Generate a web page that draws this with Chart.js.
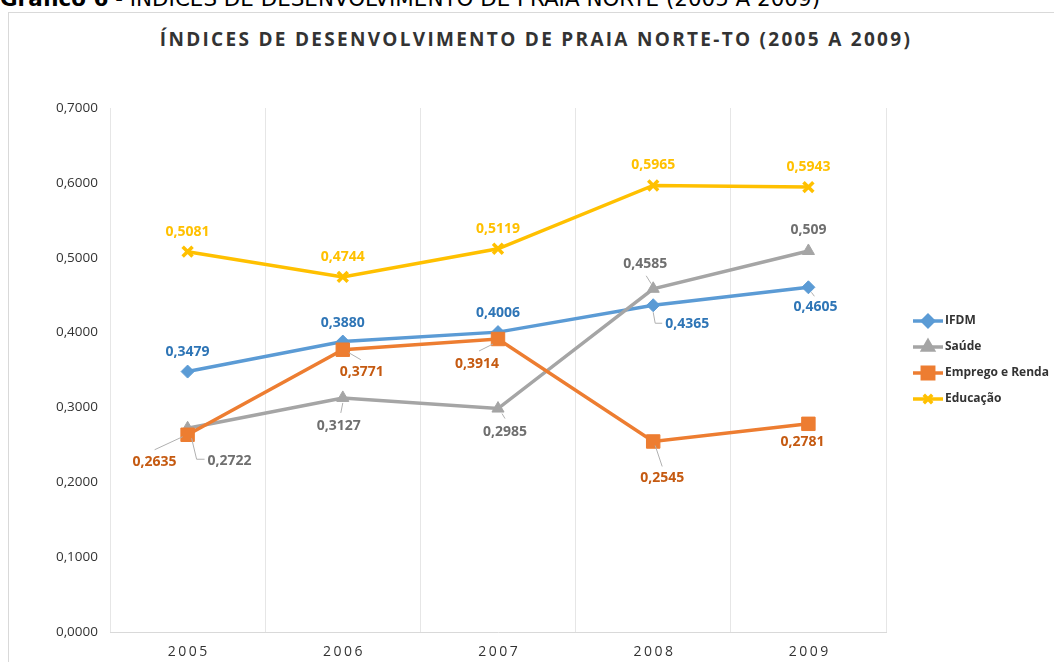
<!DOCTYPE html>
<html>
<head>
<meta charset="utf-8">
<script src="https://cdn.jsdelivr.net/npm/chart.js@4.4.0/dist/chart.umd.min.js"></script>
<style>
  body { margin: 0; background: #fff; width: 1054px; height: 662px; overflow: hidden; position: relative; font-family: 'Open Sans', sans-serif; }
  #caption { position: absolute; left: 0; top: -14px; font-family: 'Liberation Sans Narrow', 'DejaVu Sans Condensed', sans-serif; font-size: 22px; color: #000; white-space: nowrap; transform-origin: 0 0; }
  #frame { position: absolute; left: 8px; top: 12px; width: 1200px; height: 800px; border: 1px solid #d9d9d9; }
  #title { position: absolute; left: 0; top: 26px; width: 1072px; text-align: center; font-size: 19px; font-weight: bold; color: #333; white-space: nowrap; }
  #investmentChart { position: absolute; left: 0; top: 0; }
</style>
</head>
<body>
<div id="caption"><b>Gráfico 6</b> - ÍNDICES DE DESENVOLVIMENTO DE PRAIA NORTE (2005 A 2009)</div>
<div id="frame"></div>
<div id="title"><span id="titleText">ÍNDICES DE DESENVOLVIMENTO DE PRAIA NORTE-TO (2005 A 2009)</span></div>
<canvas id="investmentChart" width="1054" height="662"></canvas>
<script>
const years = ['2005', '2006', '2007', '2008', '2009'];
const ifdm = [0.3479, 0.3880, 0.4006, 0.4365, 0.4605];
const saude = [0.2722, 0.3127, 0.2985, 0.4585, 0.509];
const emprego = [0.2635, 0.3771, 0.3914, 0.2545, 0.2781];
const educacao = [0.5081, 0.4744, 0.5119, 0.5965, 0.5943];
const yMin = 0, yMax = 0.7, yStep = 0.1;

// label placement (pixels from the point) and leader lines
const labelOffsets = [
    [[0, -20], [0, -19], [0, -19], [34, 19], [7, 20]],
    [[42, 33], [-4, 28], [7, 23], [-8, -25], [0, -21]],
    [[-33, 27], [19, 22], [-21, 25], [9, 37], [-6, 18]],
    [[0, -20], [0, -20], [0, -20], [0, -20], [0, -20]],
];
const leaders = [
    [null, null, null, [[0, 7], [2, 18], [9, 18]], [[3, 5], [6, 9]]],
    [[[4, 10], [9, 31], [17, 31]], [[0, 5], [-2, 15]], [[4, 5], [7, 10]], [[-2, -5], [-7, -13]], null],
    [[[-5, 2], [-33, 15]], [[6, 3], [18, 10]], [[-5, 5], [-19, 12]], [[2, 4], [9, 25]], null],
    [null, null, null, null, null],
];
const labelColors = ['#2E75B6', '#6f6f6f', '#C55A11', '#FFC000'];

function fmt(v, general) {
    return (general ? String(v) : v.toFixed(4)).replace('.', ',');
}

// fit caption and title widths
const cap = document.getElementById('caption');
cap.style.transform = 'scaleX(' + (820 / cap.scrollWidth) + ')';
const tt = document.getElementById('titleText');
const n = tt.textContent.length;
tt.style.letterSpacing = ((752 - tt.offsetWidth) / n) + 'px';

const labelsPlugin = {
    id: 'labels',
    afterDatasetsDraw(chart) {
        const ctx = chart.ctx;
        ctx.save();
        ctx.font = "bold 14px 'Open Sans'";
        ctx.textAlign = 'center';
        ctx.textBaseline = 'middle';
        chart.data.datasets.forEach((ds, i) => {
            const meta = chart.getDatasetMeta(i);
            meta.data.forEach((pt, j) => {
                const lead = leaders[i][j];
                if (lead) {
                    ctx.strokeStyle = '#b0b0b0';
                    ctx.lineWidth = 1;
                    ctx.beginPath();
                    lead.forEach((p, k) => {
                        if (k === 0) ctx.moveTo(pt.x + p[0], pt.y + p[1]);
                        else ctx.lineTo(pt.x + p[0], pt.y + p[1]);
                    });
                    ctx.stroke();
                }
                const off = labelOffsets[i][j];
                ctx.fillStyle = labelColors[i];
                ctx.fillText(fmt(ds.data[j], i === 1), pt.x + off[0], pt.y + off[1]);
            });
        });
        ctx.restore();
    },
    afterDraw(chart) {
        const ctx = chart.ctx;
        const xs = chart.scales.x;
        ctx.save();
        // x labels, spaced out
        ctx.font = "14px 'Open Sans'";
        ctx.letterSpacing = '2.5px';
        ctx.fillStyle = '#333';
        ctx.textAlign = 'center';
        ctx.textBaseline = 'middle';
        years.forEach((y, i) => {
            ctx.fillText(y, xs.getPixelForValue(i) + 1.25, 652);
        });
        ctx.letterSpacing = '0px';
        // legend
        ctx.font = "bold 12px 'Open Sans'";
        ctx.textAlign = 'left';
        chart.data.datasets.forEach((ds, i) => {
            const y = 321 + i * 26;
            ctx.strokeStyle = ds.borderColor;
            ctx.lineWidth = 3.5;
            ctx.beginPath();
            ctx.moveTo(913, y);
            ctx.lineTo(943, y);
            ctx.stroke();
            Chart.helpers.drawPoint(ctx, {
                pointStyle: ds.pointStyle,
                radius: ds.pointRadius * 0.85,
                borderWidth: ds.pointBorderWidth,
                rotation: 0,
            }, 928, y);
            ctx.fillStyle = ds.borderColor;
            ctx.strokeStyle = ds.borderColor;
            ctx.lineWidth = ds.pointBorderWidth;
            ctx.fill();
            ctx.fillStyle = '#333';
            ctx.fillText(ds.label, 945, y);
        });
        ctx.restore();
    }
};

function series(label, data, color, style, radius, bw, order) {
    return {
        label: label,
        data: data,
        borderColor: color,
        backgroundColor: color,
        pointBackgroundColor: color,
        pointBorderColor: color,
        pointStyle: style,
        pointRadius: radius,
        pointBorderWidth: bw,
        borderWidth: 3.5,
        tension: 0,
        fill: false,
        order: order,
    };
}

const ctx = document.getElementById('investmentChart').getContext('2d');
window.myChart = new Chart(ctx, {
    type: 'line',
    data: {
        labels: years,
        datasets: [
            series('IFDM', ifdm, '#5B9BD5', 'rectRot', 6.5, 1, 3),
            series('Saúde', saude, '#A5A5A5', 'triangle', 7, 1, 2),
            series('Emprego e Renda', emprego, '#ED7D31', 'rect', 9.5, 1, 1),
            series('Educação', educacao, '#FFC000', 'crossRot', 7, 3.5, 0),
        ],
    },
    options: {
        responsive: false,
        animation: false,
        layout: { padding: { top: 108, right: 168, bottom: 0, left: 0 } },
        plugins: { legend: { display: false }, tooltip: { enabled: false }, title: { display: false } },
        scales: {
            x: {
                offset: true,
                grid: { offset: true, color: '#e6e6e6', drawTicks: false },
                border: { display: true, color: '#d9d9d9' },
                ticks: { color: 'rgba(0,0,0,0)' },
                afterFit: s => { s.height = 30; },
            },
            y: {
                min: yMin,
                max: yMax,
                grid: { display: false, drawTicks: false },
                border: { display: false },
                ticks: {
                    stepSize: yStep,
                    color: '#333',
                    font: { family: 'Open Sans', size: 13.5 },
                    padding: 12,
                    callback: v => v.toFixed(4).replace('.', ','),
                },
                afterFit: s => { s.width = 110; },
            },
        },
    },
    plugins: [labelsPlugin],
});
</script>
</body>
</html>
